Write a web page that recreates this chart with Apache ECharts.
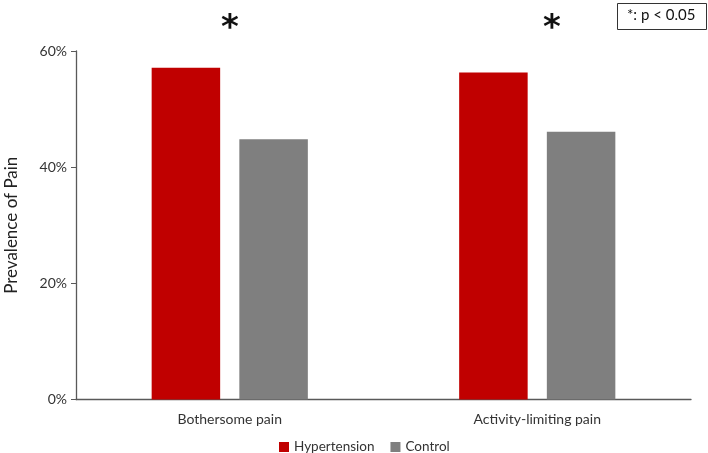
<!DOCTYPE html>
<html><head><meta charset="utf-8">
<script src="https://cdn.jsdelivr.net/npm/echarts@6/dist/echarts.min.js"></script>
<style>html,body{margin:0;padding:0;background:#fff}#c{width:708px;height:453px}</style>
</head><body><div id="c"></div>
<script>
const categories = ['Bothersome pain', 'Activity-limiting pain'];
const hypertension = [57.1, 56.3];
const control = [44.8, 46.1];
const yTicks = [0, 20, 40, 60];
const seriesNames = ['Hypertension', 'Control'];
const sigMarks = ['*', '*'];
const noteText = '*: p < 0.05';

const chart = echarts.init(document.getElementById('c'));
const font = 'Lato, "Open Sans", sans-serif';
chart.setOption({
  animation: false,
  grid: { left: 76, right: 17, top: 51, bottom: 53.5, containLabel: false, outerBoundsMode: 'none' },
  legend: {
    data: seriesNames, top: 435, left: 274, itemWidth: 10, itemHeight: 10, itemGap: 16,
    icon: 'rect', textStyle: { fontFamily: font, fontSize: 13.5, color: '#333' }
  },
  xAxis: {
    type: 'category', data: categories,
    axisLine: { lineStyle: { color: '#595959', width: 1.3 } },
    axisTick: { show: false },
    axisLabel: { fontFamily: font, fontSize: 14, color: '#333', margin: 13 }
  },
  yAxis: {
    type: 'value', min: yTicks[0], max: yTicks[yTicks.length - 1], interval: 20,
    name: 'Prevalence of Pain', nameLocation: 'middle', nameGap: 56,
    nameTextStyle: { fontFamily: font, fontSize: 17, color: '#222' },
    axisLine: { show: true, lineStyle: { color: '#595959', width: 1.3 } },
    axisTick: { show: true, length: 5, lineStyle: { color: '#595959' } },
    splitLine: { show: false },
    axisLabel: { fontFamily: font, fontSize: 14, color: '#333', margin: 9, formatter: v => v + '%' }
  },
  series: [
    { name: seriesNames[0], type: 'bar', data: hypertension, barWidth: 68.5, barGap: '28%',
      itemStyle: { color: '#C00000' } },
    { name: seriesNames[1], type: 'bar', data: control, barWidth: 68.5,
      itemStyle: { color: '#7F7F7F' } }
  ],
  graphic: [
    { type: 'text', left: 221, top: 12, style: { text: sigMarks[0], font: 'bold 34px "DejaVu Sans", sans-serif', fill: '#111' } },
    { type: 'text', left: 543, top: 12, style: { text: sigMarks[1], font: 'bold 34px "DejaVu Sans", sans-serif', fill: '#111' } },
    { type: 'rect', left: 617, top: 3, shape: { width: 89, height: 26 }, style: { fill: '#fff', stroke: '#333', lineWidth: 1 } },
    { type: 'text', left: 627, top: 8, style: { text: noteText, font: '15px Lato, "Open Sans", sans-serif', fill: '#111' } }
  ]
});
</script></body></html>
